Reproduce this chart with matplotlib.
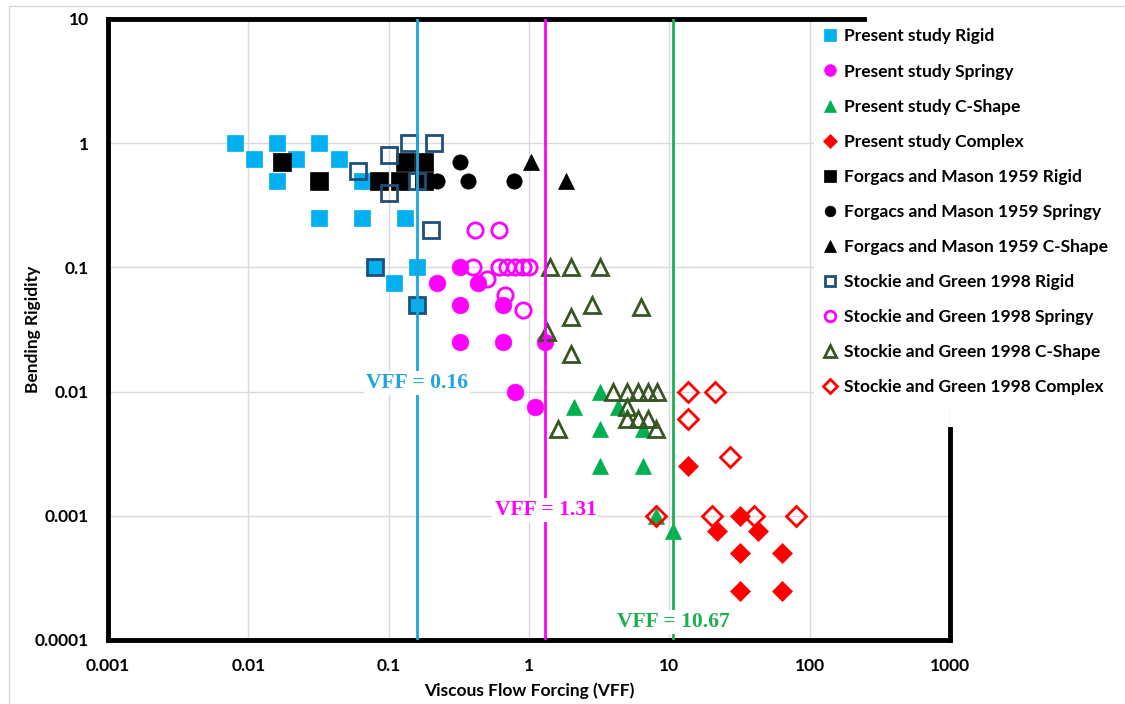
import matplotlib
matplotlib.use('Agg')
import matplotlib.pyplot as plt
from matplotlib.ticker import FixedLocator, FuncFormatter, NullLocator
from matplotlib.patches import Rectangle

# Present study
ps_rigid_x = [0.008, 0.011, 0.016, 0.016, 0.022, 0.032, 0.044, 0.032, 0.065, 0.065, 0.13, 0.08, 0.11, 0.16, 0.16]
ps_rigid_y = [1, 0.75, 1, 0.5, 0.75, 1, 0.75, 0.25, 0.25, 0.5, 0.25, 0.1, 0.075, 0.1, 0.05]
ps_springy_x = [0.32, 0.22, 0.43, 0.32, 0.65, 0.32, 0.65, 1.31, 0.8, 1.1]
ps_springy_y = [0.1, 0.075, 0.075, 0.05, 0.05, 0.025, 0.025, 0.025, 0.01, 0.0075]
ps_cshape_x = [3.2, 2.1, 4.3, 3.2, 6.5, 3.2, 6.5, 8.0, 10.67]
ps_cshape_y = [0.01, 0.0075, 0.0075, 0.005, 0.005, 0.0025, 0.0025, 0.001, 0.00075]
ps_complex_x = [13.5, 32, 22, 43, 32, 64, 32, 64]
ps_complex_y = [0.0025, 0.001, 0.00075, 0.00075, 0.0005, 0.0005, 0.00025, 0.00025]

# Forgacs and Mason 1959
fm_rigid_x = [0.0175, 0.032, 0.085, 0.12, 0.13, 0.18, 0.18]
fm_rigid_y = [0.7, 0.5, 0.5, 0.5, 0.7, 0.7, 0.5]
fm_springy_x = [0.32, 0.22, 0.37, 0.78]
fm_springy_y = [0.7, 0.5, 0.5, 0.5]
fm_cshape_x = [1.03, 1.84]
fm_cshape_y = [0.7, 0.5]

# Stockie and Green 1998
sg_rigid_x = [0.14, 0.21, 0.1, 0.06, 0.1, 0.16, 0.2, 0.08, 0.16]
sg_rigid_y = [1, 1, 0.8, 0.6, 0.4, 0.5, 0.2, 0.1, 0.05]
sg_springy_x = [0.41, 0.61, 0.4, 0.5, 0.61, 0.7, 0.8, 0.9, 1.0, 0.68, 0.9]
sg_springy_y = [0.2, 0.2, 0.1, 0.08, 0.1, 0.1, 0.1, 0.1, 0.1, 0.06, 0.045]
sg_cshape_x = [1.4, 2.0, 3.2, 2.8, 6.3, 2.0, 1.35, 2.0, 1.6, 4.0, 5.0, 6.0, 7.0, 8.2, 5.0, 5.0, 6.0, 7.0, 8.0]
sg_cshape_y = [0.1, 0.1, 0.1, 0.05, 0.048, 0.04, 0.03, 0.02, 0.005, 0.01, 0.01, 0.01, 0.01, 0.01, 0.0075, 0.006, 0.006, 0.006, 0.005]
sg_complex_x = [13.5, 21, 13.5, 27, 8.0, 20, 40, 80]
sg_complex_y = [0.01, 0.01, 0.006, 0.003, 0.001, 0.001, 0.001, 0.001]

# threshold lines
vff_values = [0.16, 1.31, 10.67]
vff_label_y = [0.0118, 0.00111, 0.00014]

BLUE = '#00B0F0'
MAGENTA = '#FF00FF'
GREEN = '#00B050'
RED = '#FF0000'
NAVY = '#1F4E79'
OLIVE = '#375623'

plt.rcParams['font.family'] = ['Lato', 'DejaVu Sans']
plt.rcParams['font.weight'] = 'bold'

fig = plt.figure(figsize=(11.25, 7.04), dpi=100)
fig.patches.append(Rectangle((9 / 1125, -0.1), 1.2, 1 - 6 / 704 + 0.1, transform=fig.transFigure,
                             fill=False, edgecolor='#D9D9D9', linewidth=1))
ax = fig.add_axes([108 / 1125, 1 - 640 / 704, 842 / 1125, 621 / 704])
ax.set_xscale('log')
ax.set_yscale('log')
ax.set_xlim(1e-3, 1e3)
ax.set_ylim(1e-4, 10)

series = [
    (ps_rigid_x, ps_rigid_y, 's', BLUE, BLUE, 12, 'Present study Rigid'),
    (ps_springy_x, ps_springy_y, 'o', MAGENTA, MAGENTA, 12, 'Present study Springy'),
    (ps_cshape_x, ps_cshape_y, '^', GREEN, GREEN, 12, 'Present study C-Shape'),
    (ps_complex_x, ps_complex_y, 'D', RED, RED, 10, 'Present study Complex'),
    (fm_rigid_x, fm_rigid_y, 's', 'black', 'black', 13, 'Forgacs and Mason 1959 Rigid'),
    (fm_springy_x, fm_springy_y, 'o', 'black', 'black', 11, 'Forgacs and Mason 1959 Springy'),
    (fm_cshape_x, fm_cshape_y, '^', 'black', 'black', 12, 'Forgacs and Mason 1959 C-Shape'),
    (sg_rigid_x, sg_rigid_y, 's', 'none', NAVY, 11, 'Stockie and Green 1998 Rigid'),
    (sg_springy_x, sg_springy_y, 'o', 'none', MAGENTA, 11, 'Stockie and Green 1998 Springy'),
    (sg_cshape_x, sg_cshape_y, '^', 'none', OLIVE, 12, 'Stockie and Green 1998 C-Shape'),
    (sg_complex_x, sg_complex_y, 'D', 'none', RED, 10.5, 'Stockie and Green 1998 Complex'),
]
for x, y, m, fc, ec, ms, lab in series:
    ax.plot(x, y, linestyle='none', marker=m, markersize=ms, markerfacecolor=fc,
            markeredgecolor=ec, markeredgewidth=2 if fc == 'none' else 0.5, label=lab, zorder=3)

line_colors = ['#1FA5DE', MAGENTA, '#1DB050']
for v, ly, c in zip(vff_values, vff_label_y, line_colors):
    ax.axvline(v, color=c, linewidth=2, zorder=4)
    ax.text(v, ly, f'VFF = {v:g}', color=c, ha='center', va='center', fontsize=15.5,
            family='Liberation Serif', fontweight='bold', zorder=5,
            bbox=dict(facecolor='white', edgecolor='none', pad=1.5))

# gridlines and frame
ax.grid(True, which='major', color='#D9D9D9', linewidth=1)
ax.set_axisbelow(True)
ax.xaxis.set_major_locator(FixedLocator([1e-3, 1e-2, 1e-1, 1, 10, 100, 1000]))
ax.yaxis.set_major_locator(FixedLocator([1e-4, 1e-3, 1e-2, 1e-1, 1, 10]))
ax.xaxis.set_minor_locator(NullLocator())
ax.yaxis.set_minor_locator(NullLocator())
ax.xaxis.set_major_formatter(FuncFormatter(lambda v, p: f'{v:.3f}'.rstrip('0').rstrip('.') if v < 1 else f'{v:g}'))
ax.yaxis.set_major_formatter(FuncFormatter(lambda v, p: f'{v:.4f}'.rstrip('0').rstrip('.') if v < 1 else f'{v:g}'))
ax.tick_params(length=0, labelsize=12.5, colors='black')
ax.tick_params(axis='x', pad=13)
ax.tick_params(axis='y', pad=14)
for s in ax.spines.values():
    s.set_linewidth(3.5)
    s.set_color('black')
ax.spines['top'].set_bounds(1e-3, 243)
ax.spines['right'].set_bounds(1e-4, 0.005)

ax.set_xlabel('Viscous Flow Forcing (VFF)', fontsize=12.5, fontweight='bold')
ax.set_ylabel('Bending Rigidity', fontsize=12.5, fontweight='bold')
ax.xaxis.set_label_coords(0.5, -0.068)
ax.yaxis.set_label_coords(-0.08, 0.5)

leg = ax.legend(loc='upper left', bbox_to_anchor=(814 / 1125, 1 - 18 / 704),
                bbox_transform=fig.transFigure, frameon=True, facecolor='white',
                edgecolor='none', framealpha=1, fancybox=False, fontsize=12.5,
                markerscale=0.7, handlelength=0.6, handletextpad=0.5,
                labelspacing=1.1, borderpad=0.6, borderaxespad=0)
leg.set_zorder(2)

fig.savefig('out.png', dpi=100)
